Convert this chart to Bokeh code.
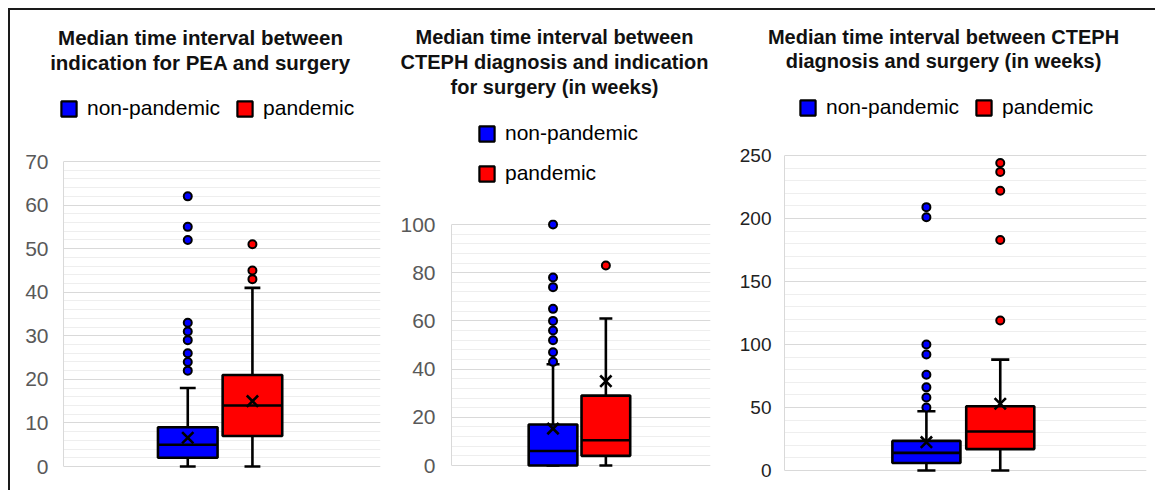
from bokeh.plotting import figure
from bokeh.layouts import row, column
from bokeh.models import (Legend, LegendItem, SingleIntervalTicker,
                          Range1d, Spacer, ColumnDataSource)
from bokeh.core.properties import value
from bokeh.embed import file_html
from bokeh.resources import INLINE

groups = ["non-pandemic", "pandemic"]
box_colors = ["#0000ff", "#ff0000"]

# Panel 1: indication for PEA -> surgery
p1_title = ["Median time interval between", "indication for PEA and surgery"]
p1_min = [0, 0]
p1_q1 = [2, 7]
p1_median = [5, 14]
p1_q3 = [9, 21]
p1_max = [18, 41]
p1_mean = [6.6, 15]
p1_outliers = [[22, 24, 26, 29, 31, 33, 52, 55, 62], [43, 45, 51]]
p1_ticks = [0, 10, 20, 30, 40, 50, 60, 70]

# Panel 2: CTEPH diagnosis -> indication for surgery (weeks)
p2_title = ["Median time interval between", "CTEPH diagnosis and indication", "for surgery (in weeks)"]
p2_min = [0, 0]
p2_q1 = [0, 4]
p2_median = [6, 10.5]
p2_q3 = [17, 29]
p2_max = [42, 61]
p2_mean = [15.3, 35]
p2_outliers = [[43, 47, 52, 56, 60, 65, 74, 78, 100], [83]]
p2_ticks = [0, 20, 40, 60, 80, 100]

# Panel 3: CTEPH diagnosis -> surgery (weeks)
p3_title = ["Median time interval between CTEPH", "diagnosis and surgery (in weeks)"]
p3_min = [0, 0]
p3_q1 = [6, 17]
p3_median = [14, 31]
p3_q3 = [23.5, 51]
p3_max = [47, 88]
p3_mean = [22.5, 53]
p3_outliers = [[50, 58, 66, 76, 92, 100, 201, 209], [119, 183, 222, 237, 244]]
p3_ticks = [0, 50, 100, 150, 200, 250]

FONT = "Liberation Sans"
TOTAL_H = 480
LW = 2.6
BOX_X = [0.392, 0.596]
BOX_W = 0.188
CAP_W = 0.05


def make_header(width, height, title_lines, q1s, q3s, title_cx, title_ys,
                title_size, legend_xy, legend_orient, legend_spacing):
    h = figure(width=width, height=height, output_backend="svg",
               toolbar_location=None, x_axis_location=None, y_axis_location=None,
               title=None, x_range=Range1d(0, width), y_range=Range1d(0, height),
               min_border=0, frame_align=False)
    h.outline_line_color = None
    h.grid.grid_line_color = None
    h.text(x=[title_cx] * len(title_lines), y=title_ys, text=title_lines,
           text_align="center", text_baseline="middle",
           text_font=value(FONT), text_font_size=title_size,
           text_font_style="bold", text_color="#111111")
    # legend swatches: the same box glyph, kept muted (fully transparent) in the
    # header so only the legend shows it
    src = ColumnDataSource(dict(x=BOX_X, bottom=q1s, top=q3s, color=box_colors))
    r = h.vbar(x="x", width=BOX_W, bottom="bottom", top="top", source=src,
               fill_color="color", line_color="black", line_width=2.2,
               muted_alpha=0)
    r.muted = True
    items = [LegendItem(label=g, renderers=[r], index=i) for i, g in enumerate(groups)]
    leg = Legend(items=items, orientation=legend_orient, location=legend_xy,
                 padding=0, margin=0, spacing=legend_spacing,
                 glyph_width=19, glyph_height=19, label_standoff=9,
                 label_height=19, label_text_font=FONT,
                 label_text_font_size="21px", label_text_color="black",
                 border_line_color=None, background_fill_alpha=0,
                 inactive_fill_alpha=0)
    h.add_layout(leg)
    return h


def make_plot(mins, q1s, meds, q3s, maxs, means, outl, ticks, width, height,
              borders, tick_size, tick_color, standoff):
    left, right, top, bottom = borders
    pad_px = 3       # room below 0 so the caps are not clipped
    pad_top_px = 5   # room above the top tick so outliers are not clipped
    frame_h = height - top - bottom
    upp = (ticks[-1] - ticks[0]) / frame_h
    p = figure(width=width, height=height, output_backend="svg",
               toolbar_location=None, x_axis_location=None, title=None,
               x_range=Range1d(0, 1),
               y_range=Range1d(ticks[0] - pad_px * upp, ticks[-1] + pad_top_px * upp),
               min_border_left=left, min_border_right=right,
               min_border_top=top - pad_top_px, min_border_bottom=bottom - pad_px,
               frame_align=False)
    p.outline_line_color = None

    ticker = SingleIntervalTicker(interval=ticks[1] - ticks[0], num_minor_ticks=5)
    p.yaxis.ticker = ticker
    p.ygrid.ticker = ticker
    p.yaxis.bounds = (ticks[0], ticks[-1])
    p.ygrid.bounds = (ticks[0], ticks[-1])
    p.ygrid.grid_line_color = "#d9d9d9"
    p.ygrid.grid_line_width = 1.2
    p.ygrid.minor_grid_line_color = "#eeeeee"
    p.ygrid.minor_grid_line_width = 1.2
    p.xgrid.grid_line_color = None
    p.yaxis.axis_line_color = "#d9d9d9"
    p.yaxis.major_tick_line_color = None
    p.yaxis.minor_tick_line_color = None
    p.yaxis.major_tick_out = 0
    p.yaxis.major_tick_in = 0
    p.yaxis.minor_tick_out = 0
    p.yaxis.minor_tick_in = 0
    p.yaxis.major_label_text_font = FONT
    p.yaxis.major_label_text_font_size = tick_size
    p.yaxis.major_label_text_color = tick_color
    p.yaxis.major_label_standoff = standoff

    xs = BOX_X
    src = ColumnDataSource(dict(x=xs, lo=mins, q1=q1s, med=meds, q3=q3s, hi=maxs,
                                mean=means, color=box_colors,
                                bl=[x - BOX_W / 2 for x in xs], br=[x + BOX_W / 2 for x in xs],
                                cl=[x - CAP_W / 2 for x in xs], cr=[x + CAP_W / 2 for x in xs]))
    p.segment(x0="x", x1="x", y0="q3", y1="hi", source=src, line_color="black", line_width=LW)
    p.segment(x0="x", x1="x", y0="q1", y1="lo", source=src, line_color="black", line_width=LW)
    p.segment(x0="cl", x1="cr", y0="hi", y1="hi", source=src, line_color="black", line_width=LW)
    p.segment(x0="cl", x1="cr", y0="lo", y1="lo", source=src, line_color="black", line_width=LW)
    p.vbar(x="x", width=BOX_W, bottom="q1", top="q3", source=src,
           fill_color="color", line_color="black", line_width=LW)
    p.segment(x0="bl", x1="br", y0="med", y1="med", source=src, line_color="black", line_width=LW)
    p.scatter(x="x", y="mean", source=src, marker="x", size=16,
              line_color="black", line_width=2.6)

    ox, oy, oc = [], [], []
    for i, vals in enumerate(outl):
        for v in vals:
            ox.append(xs[i])
            oy.append(v)
            oc.append(box_colors[i])
    p.scatter(x=ox, y=oy, marker="circle", size=8, fill_color=oc,
              line_color="black", line_width=2)
    return p


# Panel 1 (page x 10..390)
h1 = make_header(380, 130, p1_title, p1_q1, p1_q3, 190, [103, 78], "20.5px",
                 (49, 20), "horizontal", 15)
f1 = make_plot(p1_min, p1_q1, p1_median, p1_q3, p1_max, p1_mean, p1_outliers,
               p1_ticks, 380, TOTAL_H - 130, (53, 10, 21, 24), "21px", "#595959", 15)
# Panel 2 (page x 390..722)
h2 = make_header(332, 190, p2_title, p2_q1, p2_q3, 164, [164, 139, 114], "20px",
                 (87, 15), "vertical", 16)
f2 = make_plot(p2_min, p2_q1, p2_median, p2_q3, p2_max, p2_mean, p2_outliers,
               p2_ticks, 332, TOTAL_H - 190, (61, 12, 24, 25), "21px", "#595959", 16)
# Panel 3 (page x 722..1155)
h3 = make_header(433, 130, p3_title, p3_q1, p3_q3, 221, [104, 80], "20px",
                 (76, 21), "horizontal", 15)
f3 = make_plot(p3_min, p3_q1, p3_median, p3_q3, p3_max, p3_mean, p3_outliers,
               p3_ticks, 433, TOTAL_H - 130, (62, 9, 15, 20), "19px", "#222222", 13)

panel1 = column(h1, f1, spacing=0)
panel2 = column(h2, f2, spacing=0)
panel3 = column(h3, f3, spacing=0)

frame_color = "#1a1a1a"
top_line = Spacer(width=1147, height=2, margin=0, styles={"background-color": frame_color})
left_line = Spacer(width=2, height=480, margin=0, styles={"background-color": frame_color})
layout = column(
    Spacer(width=1155, height=8, margin=0),
    row(Spacer(width=8, height=482, margin=0),
        column(top_line, row(left_line, panel1, panel2, panel3, spacing=0), spacing=0),
        spacing=0),
    spacing=0)

open("out.html", "w").write(file_html(layout, INLINE))
